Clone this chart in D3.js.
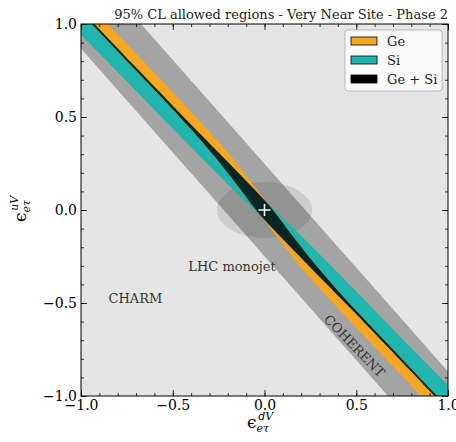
<!DOCTYPE html>
<html>
<head>
<meta charset="utf-8">
<script src="https://cdn.jsdelivr.net/npm/d3@7"></script>
<style>
  body { margin: 0; background: #fff; }
  text { font-family: "DejaVu Serif", serif; }
</style>
</head>
<body>
<script>
// bands are read along the diagonal: t = x - y (along), s = x + y (across)
var tGrid  = [-2.2, -2.0, -1.5, -1.0, -0.75, -0.5, -0.25, 0, 0.25, 0.5, 0.75, 1.0, 1.5, 2.0, 2.2];
var siLow  = [-0.058, -0.058, -0.058, -0.062, -0.062, -0.062, -0.060, -0.055, -0.056, -0.058, -0.059, -0.060, -0.066, -0.074, -0.076];
var siHigh = [0.076, 0.074, 0.066, 0.060, 0.059, 0.058, 0.056, 0.055, 0.060, 0.062, 0.062, 0.062, 0.058, 0.058, 0.058];
var geLow  = [0.062, 0.060, 0.050, 0.040, 0.029, 0.010, -0.019, -0.050, -0.080, -0.110, -0.122, -0.130, -0.140, -0.150, -0.152];
var geHigh = [0.152, 0.150, 0.140, 0.130, 0.122, 0.110, 0.080, 0.050, 0.019, -0.010, -0.029, -0.040, -0.050, -0.060, -0.062];

var cohT    = [-2.2, -1.0, 0, 1.0, 2.2];
var cohLow  = [-0.114, -0.180, -0.235, -0.290, -0.356];
var cohHigh = [0.356, 0.290, 0.235, 0.180, 0.114];

// LHC monojet blob: centre and half axes
var lhc = {cx: 0, cy: 0, rx: 0.26, ry: 0.15};

var majorTicks = [-1.0, -0.5, 0.0, 0.5, 1.0];
var minorTicks = d3.range(-10, 11).map(function(i){ return i / 10; });

var legendItems = [
  {label: "Ge", color: "#f5a623"},
  {label: "Si", color: "#22b5ad"},
  {label: "Ge + Si", color: "#000000"}
];

var W = 456, H = 442;
var svg = d3.select("body").append("svg").attr("width", W).attr("height", H);

var x = d3.scaleLinear().domain([-1, 1]).range([81, 448]);
var y = d3.scaleLinear().domain([-1, 1]).range([396, 24]);

svg.append("clipPath").attr("id", "plotclip")
  .append("rect")
  .attr("x", x(-1)).attr("y", y(1))
  .attr("width", x(1) - x(-1)).attr("height", y(-1) - y(1));

svg.append("rect")
  .attr("x", x(-1)).attr("y", y(1))
  .attr("width", x(1) - x(-1)).attr("height", y(-1) - y(1))
  .attr("fill", "#e5e5e5");

var plot = svg.append("g").attr("clip-path", "url(#plotclip)");

function bandPath(ts, lo, hi, curve) {
  var line = d3.line()
    .x(function(p){ return x((p[1] + p[0]) / 2); })
    .y(function(p){ return y((p[1] - p[0]) / 2); })
    .curve(curve || d3.curveLinear);
  var a = ts.map(function(t, i){ return [t, lo[i]]; });
  var b = ts.map(function(t, i){ return [t, hi[i]]; }).reverse();
  var pb = line(b);
  return line(a) + "L" + pb.slice(1) + "Z";
}

plot.append("path").attr("d", bandPath(cohT, cohLow, cohHigh)).attr("fill", "#a4a4a4");

plot.append("ellipse")
  .attr("cx", x(lhc.cx)).attr("cy", y(lhc.cy))
  .attr("rx", x(lhc.rx) - x(0)).attr("ry", y(0) - y(lhc.ry))
  .attr("fill", "#000").attr("fill-opacity", 0.1);

var smooth = d3.curveCatmullRom;
plot.append("path").attr("d", bandPath(tGrid, siLow, siHigh, smooth)).attr("fill", legendItems[1].color);
plot.append("path").attr("d", bandPath(tGrid, geLow, geHigh, smooth)).attr("fill", legendItems[0].color);

var bothLow = tGrid.map(function(t, i){ return Math.max(siLow[i], geLow[i]); });
var bothHigh = tGrid.map(function(t, i){ return Math.min(siHigh[i], geHigh[i]); });
plot.append("path").attr("d", bandPath(tGrid, bothLow, bothHigh, smooth)).attr("fill", "#072522");

// best fit cross
var cx0 = x(0), cy0 = y(0);
plot.append("path")
  .attr("d", "M" + (cx0 - 6) + "," + cy0 + "H" + (cx0 + 6) + "M" + cx0 + "," + (cy0 - 6) + "V" + (cy0 + 6))
  .attr("stroke", "#fff").attr("stroke-width", 1.6);

// region labels
svg.append("text").attr("x", x(-0.85)).attr("y", y(-0.475) + 5)
  .attr("font-size", 13).attr("fill", "#333").text("CHARM");
svg.append("text").attr("x", x(-0.177)).attr("y", y(-0.3) + 5)
  .attr("text-anchor", "middle").attr("font-size", 13).attr("fill", "#333").text("LHC monojet");
svg.append("text")
  .attr("transform", "translate(" + x(0.49) + "," + y(-0.73) + ") rotate(46)")
  .attr("text-anchor", "middle").attr("dy", "0.35em")
  .attr("font-size", 13).attr("fill", "#333").text("COHERENT");

// axes with inward ticks
var fmt = d3.format(".1f");
function addAxis(gen, tx, ty, vals, size, labels) {
  var g = svg.append("g").attr("transform", "translate(" + tx + "," + ty + ")")
    .call(gen.tickValues(vals).tickSize(size).tickPadding(4)
      .tickFormat(labels ? fmt : ""));
  g.select(".domain").remove();
  g.selectAll("line").attr("stroke", "#000").attr("stroke-width", 0.8);
  g.selectAll("text").attr("font-family", "DejaVu Serif").attr("font-size", 14).attr("fill", "#000");
  return g;
}
addAxis(d3.axisBottom(x), 0, y(-1), minorTicks, -3, false);
addAxis(d3.axisBottom(x), 0, y(-1), majorTicks, -6, true);
addAxis(d3.axisTop(x), 0, y(1), minorTicks, -3, false);
addAxis(d3.axisTop(x), 0, y(1), majorTicks, -6, false);
addAxis(d3.axisLeft(y), x(-1), 0, minorTicks, -3, false);
addAxis(d3.axisLeft(y), x(-1), 0, majorTicks, -6, true);
addAxis(d3.axisRight(y), x(1), 0, minorTicks, -3, false);
addAxis(d3.axisRight(y), x(1), 0, majorTicks, -6, false);

svg.append("rect")
  .attr("x", x(-1)).attr("y", y(1))
  .attr("width", x(1) - x(-1)).attr("height", y(-1) - y(1))
  .attr("fill", "none").attr("stroke", "#000").attr("stroke-width", 1);

// title
svg.append("text").attr("x", x(1)).attr("y", 19).attr("text-anchor", "end")
  .attr("font-size", 13).attr("fill", "#222")
  .text("95% CL allowed regions - Very Near Site - Phase 2");

// axis labels
function epsLabel(sel, sup) {
  sel.append("tspan").attr("font-size", 17).text("\u03F5");
  sel.append("tspan").attr("font-size", 11).attr("font-style", "italic").attr("dy", 4).text("e\u03C4");
  sel.append("tspan").attr("font-size", 11).attr("font-style", "italic").attr("dx", -11).attr("dy", -12).text(sup);
}
var xl = svg.append("text").attr("x", 247).attr("y", 428);
epsLabel(xl, "dV");
var yl = svg.append("text").attr("transform", "translate(26," + (y(0) + 12) + ") rotate(-90)");
epsLabel(yl, "uV");

// legend
var lg = svg.append("g").attr("transform", "translate(345,30)");
lg.append("rect").attr("width", 97).attr("height", 61).attr("rx", 3)
  .attr("fill", "#fff").attr("fill-opacity", 0.8).attr("stroke", "#aaa").attr("stroke-width", 0.8);
legendItems.forEach(function(d, i) {
  var row = lg.append("g").attr("transform", "translate(6," + (7 + i * 19) + ")");
  row.append("rect").attr("width", 26).attr("height", 8)
    .attr("fill", d.color).attr("stroke", "#000").attr("stroke-width", 0.8);
  row.append("text").attr("x", 36).attr("y", 9).attr("font-size", 13).attr("fill", "#222").text(d.label);
});
</script>
</body>
</html>
